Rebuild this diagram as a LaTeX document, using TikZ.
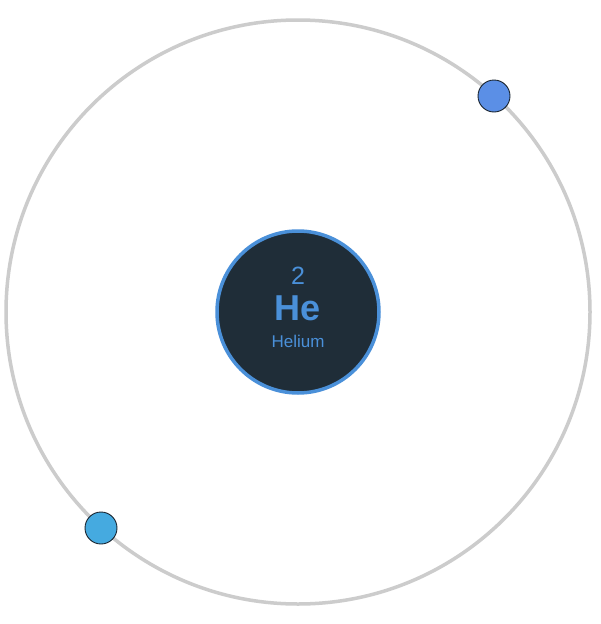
\documentclass[tikz,border=0pt]{standalone}
\usepackage{fontspec}
\setmainfont{Liberation Sans}
\definecolor{orbitgray}{HTML}{CCCCCC}
\definecolor{nucfill}{HTML}{1F2D38}
\definecolor{nucblue}{HTML}{4A90D9}
\definecolor{eone}{HTML}{5B8FE6}
\definecolor{etwo}{HTML}{45AAE0}
\definecolor{edge}{HTML}{1A2530}
\begin{document}
\begin{tikzpicture}[x=1pt,y=-1pt,
  orbit/.style={draw=orbitgray,line width=3.5pt},
  nucleus/.style={circle,draw=nucblue,fill=nucfill,line width=3.5pt,minimum size=162pt,inner sep=0pt},
  electron/.style={circle,draw=edge,line width=0.9pt,minimum size=32pt,inner sep=0pt},
  lbl/.style={text=nucblue,inner sep=0pt}]
\useasboundingbox (0,0) rectangle (601,624);
\fill[white] (0,0) rectangle (601,624);
\draw[orbit] (298,312) circle[radius=292];
\node[nucleus] (nuc) at (298,312) {};
\node[lbl,font=\fontsize{25}{28}\selectfont] (num) at (298,276) {2};
\node[lbl,font=\fontsize{36}{40}\selectfont\bfseries] (sym) at (298,308.5) {He};
\node[lbl,font=\fontsize{17}{20}\selectfont] (name) at (298,341) {Helium};
\node[electron,fill=eone] (e1) at (494,96) {};
\node[electron,fill=etwo] (e2) at (101,528) {};
\end{tikzpicture}
\end{document}
